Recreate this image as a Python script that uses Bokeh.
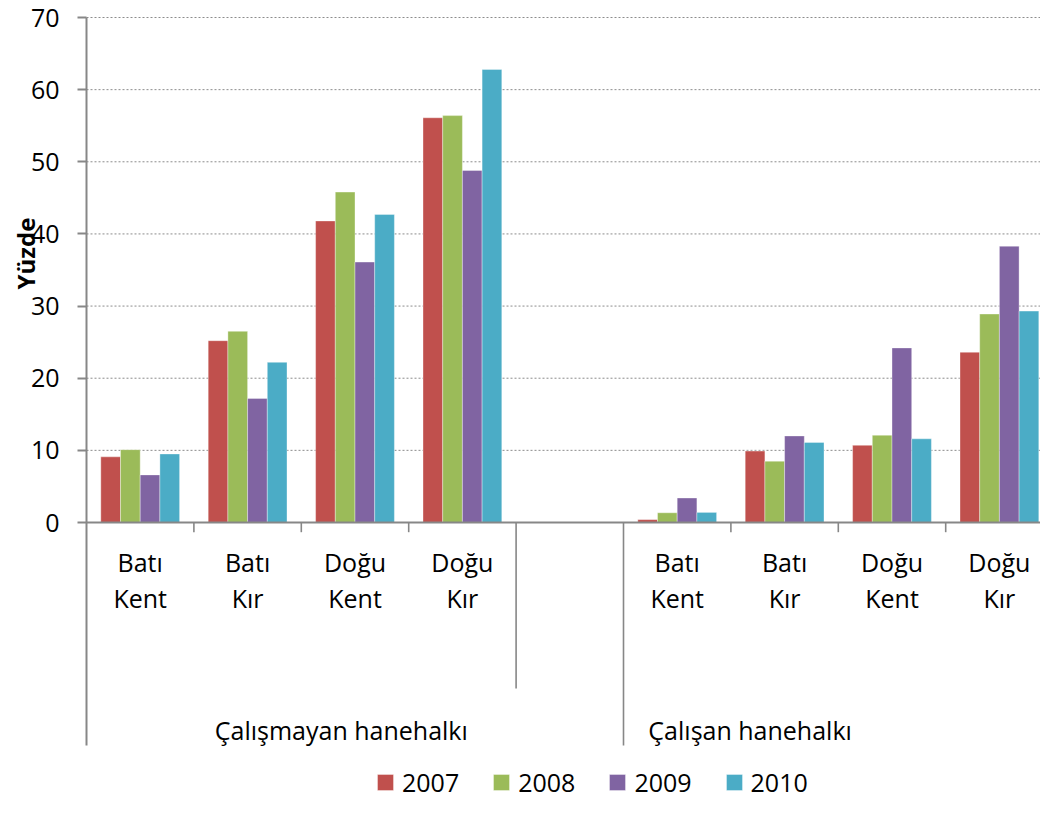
import numpy as np
from bokeh.plotting import figure
from bokeh.models import (Range1d, FixedTicker, Legend, LegendItem, LinearAxis,
                          ColumnDataSource)
from bokeh.core.properties import value
from bokeh.embed import file_html
from bokeh.resources import INLINE

# ---------------- data ----------------
groups = ["Çalışmayan hanehalkı", "Çalışan hanehalkı"]
regions = ["Batı Kent", "Batı Kır", "Doğu Kent", "Doğu Kır"]
years = ["2007", "2008", "2009", "2010"]

# values ordered: group 1 (4 regions), then group 2 (4 regions)
v2007 = [9.1, 25.2, 41.8, 56.1, 0.4, 9.9, 10.7, 23.6]
v2008 = [10.1, 26.5, 45.8, 56.4, 1.35, 8.5, 12.1, 28.9]
v2009 = [6.6, 17.2, 36.1, 48.8, 3.4, 12.0, 24.2, 38.3]
v2010 = [9.5, 22.2, 42.7, 62.8, 1.4, 11.1, 11.6, 29.3]
series = [v2007, v2008, v2009, v2010]

y_ticks = [0, 10, 20, 30, 40, 50, 60, 70]
colors = ["#C0504D", "#9BBB59", "#8064A2", "#4BACC6"]

# ---------------- layout constants (canvas px) ----------------
W, H = 1040, 800
AXIS_X_PX = 86       # x of first slot boundary / value axis
TOP_PX = 17          # y of value 70
ZERO_PX = 522        # y of value 0
SLOT_PX = 107.4
UNIT_PX = (ZERO_PX - TOP_PX) / 70.0

def px_to_y(py):
    return (ZERO_PX - py) / UNIT_PX

def px_to_x(px):
    return (px - AXIS_X_PX) / SLOT_PX

x_start, x_end = px_to_x(0), px_to_x(W)
y_start, y_end = px_to_y(H), px_to_y(0)

BAR_W = 19.7 / SLOT_PX
FONT = "Open Sans"
GRAY = "#878787"
TXT = "#000000"

p = figure(width=W, height=H, x_range=Range1d(x_start, x_end),
           y_range=Range1d(y_start, y_end), output_backend="svg",
           toolbar_location=None, x_axis_location=None, y_axis_location=None,
           min_border=0, min_border_left=0, min_border_right=0,
           min_border_top=0, min_border_bottom=0)
p.outline_line_color = None
p.background_fill_color = "white"
p.border_fill_color = "white"
p.xgrid.visible = False
p.ygrid.visible = False

# value axis, drawn at x = 0 inside the frame
yax = LinearAxis(fixed_location=0, ticker=FixedTicker(ticks=y_ticks))
yax.axis_line_color = None
yax.major_tick_out = 9
yax.major_tick_in = 0
yax.major_tick_line_color = GRAY
yax.major_tick_line_width = 2
yax.minor_tick_line_color = None
yax.major_label_standoff = 18
yax.major_label_text_font = FONT
yax.major_label_text_font_size = "25px"
yax.major_label_text_color = TXT
p.add_layout(yax, "left")

# slots: group g, region r -> slot g*5 + r (slot 4 stays empty)
n_reg = len(regions)
n_slots = len(groups) * (n_reg + 1)
slots = [g * (n_reg + 1) + r for g in range(len(groups)) for r in range(n_reg)]
centers = [s + 0.5 for s in slots]

# dotted gridlines from the value axis to the right edge
grid_ticks = y_ticks[1:]
p.segment(x0=[0] * len(grid_ticks), y0=grid_ticks, x1=[x_end] * len(grid_ticks),
          y1=grid_ticks, line_color="#8c8c8c", line_width=1, line_dash="2 2")

renderers = []
for i, (yr, vals, col) in enumerate(zip(years, series, colors)):
    src = ColumnDataSource(dict(x=[c + (i - 1.5) * BAR_W for c in centers], top=vals))
    r = p.vbar(x="x", top="top", bottom=0, width=BAR_W, source=src,
               fill_color=col, line_color="white", line_alpha=0.45, line_width=0.8)
    renderers.append(r)

# category axis line at 0
p.segment(x0=[0], y0=[0], x1=[x_end], y1=[0], line_color=GRAY, line_width=2)

# category axis tick marks / separators
short_y = px_to_y(531.7)
mid_y = px_to_y(688)
long_y = px_to_y(745)
bounds = list(range(1, n_slots))
tick_bottom = []
for b in bounds:
    if b == n_reg + 1:
        tick_bottom.append(long_y)
    elif b == n_reg:
        tick_bottom.append(mid_y)
    else:
        tick_bottom.append(short_y)
p.segment(x0=bounds, y0=[0] * len(bounds), x1=bounds, y1=tick_bottom,
          line_color=GRAY, line_width=1.6)
# left value-axis line, continuing down as the outer category separator
p.segment(x0=[0], y0=[70], x1=[0], y1=[long_y], line_color=GRAY, line_width=2)

# category labels (two lines)
line1 = [regions[r].split(" ")[0] for g in range(len(groups)) for r in range(n_reg)]
line2 = [regions[r].split(" ")[1] for g in range(len(groups)) for r in range(n_reg)]
p.text(x=centers, y=[px_to_y(561)] * len(centers), text=line1,
       text_font=value(FONT), text_font_size="25px", text_align="center",
       text_baseline="middle", text_color=TXT)
p.text(x=centers, y=[px_to_y(597)] * len(centers), text=line2,
       text_font=value(FONT), text_font_size="25px", text_align="center",
       text_baseline="middle", text_color=TXT)

# group labels
group_label_x = [px_to_x(340.8), px_to_x(749.6)]
p.text(x=group_label_x, y=[px_to_y(729)] * 2, text=groups,
       text_font=value(FONT), text_font_size="25px", text_align="center",
       text_baseline="middle", text_color=TXT)

# value axis title
p.text(x=[px_to_x(25)], y=[px_to_y(253)], text=["Yüzde"], angle=np.pi / 2,
       text_font=value(FONT), text_font_size="24px", text_font_style="bold",
       text_align="center", text_baseline="middle", text_color=TXT)

legend = Legend(items=[LegendItem(label=yr, renderers=[r]) for yr, r in zip(years, renderers)],
                orientation="horizontal", location=(375, 1),
                glyph_width=20, glyph_height=20, label_standoff=7, spacing=32,
                padding=0, margin=0, border_line_color=None,
                background_fill_alpha=0, label_text_font=FONT,
                label_text_font_size="25px", label_text_color=TXT)
p.add_layout(legend)

open("out.html", "w").write(file_html(p, INLINE))
